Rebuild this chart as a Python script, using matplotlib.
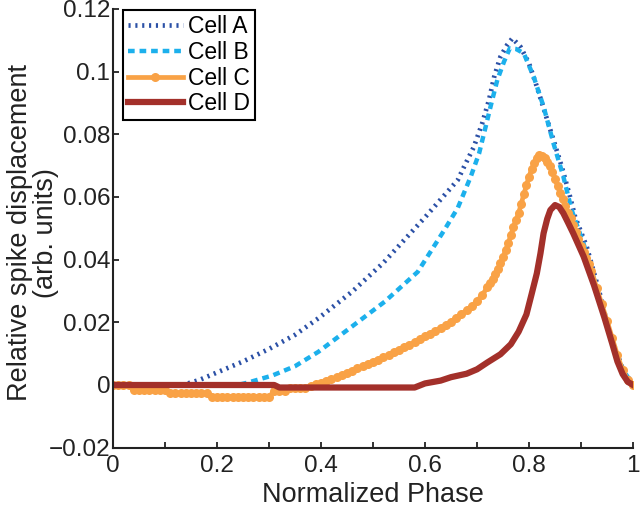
import matplotlib
matplotlib.use("Agg")
import matplotlib.pyplot as plt

plt.rcParams['font.family'] = ['Liberation Sans', 'DejaVu Sans']

# values
a_x = [0, 0.13, 0.14, 0.166, 0.20, 0.25, 0.30, 0.35, 0.395, 0.46, 0.52, 0.60,
       0.663, 0.675, 0.694, 0.71, 0.723, 0.733, 0.745, 0.758, 0.768, 0.7835,
       0.80, 0.815, 0.831, 0.847, 0.863, 0.879, 0.8885, 0.911, 0.936, 0.955,
       0.981, 1.0]
a_y = [0, 0, 0.0003, 0.0016, 0.0040, 0.0075, 0.0115, 0.0160, 0.0213, 0.0298,
       0.0390, 0.0535, 0.0654, 0.0696, 0.0760, 0.0835, 0.0909, 0.0983, 0.1047,
       0.1085, 0.1106, 0.1079, 0.1026, 0.0952, 0.0867, 0.0782, 0.0696, 0.0600,
       0.0537, 0.0441, 0.0292, 0.0165, 0.0048, 0]

b_x = [0, 0.24, 0.26, 0.281, 0.306, 0.35, 0.395, 0.459, 0.5226, 0.586, 0.637,
       0.663, 0.688, 0.704, 0.7166, 0.726, 0.739, 0.7518, 0.763, 0.775, 0.79,
       0.809, 0.828, 0.847, 0.866, 0.882, 0.905, 0.93, 0.955, 0.98, 1.0]
b_y = [0, 0, 0.0008, 0.0018, 0.0030, 0.0060, 0.0106, 0.0186, 0.0266, 0.0361,
       0.0494, 0.0565, 0.0665, 0.0739, 0.0824, 0.0888, 0.0973, 0.1031, 0.1074,
       0.1072, 0.1058, 0.0983, 0.0888, 0.0771, 0.0665, 0.0558, 0.0450, 0.0310,
       0.0165, 0.0050, 0]

# cell C is sampled finely (every 0.01, every 0.005 around the peak)
c_x = ([i / 100 for i in range(72)]
       + [round(0.72 + i * 0.005, 3) for i in range(40)]
       + [0.92, 0.93, 0.94, 0.95, 0.96, 0.97, 0.98, 0.99, 1.0])
c_y = [0, 0, 0, 0,
       -0.0016, -0.0016, -0.0016, -0.0016, -0.0016, -0.0016, -0.0016,
       -0.0027, -0.0027, -0.0027, -0.0027, -0.0027, -0.0027, -0.0027, -0.0027,
       -0.0037, -0.0037, -0.0037, -0.0037, -0.0037, -0.0037, -0.0037, -0.0037,
       -0.0037, -0.0037, -0.0037, -0.0037,
       -0.0020, -0.0020, -0.0020,
       -0.0010, -0.0010, -0.0010, -0.0010,
       -0.0003, 0.0002, 0.0007, 0.0012, 0.0018, 0.0024, 0.0031, 0.0038, 0.0045,
       0.0053, 0.0060, 0.0067, 0.0074, 0.0081, 0.0088, 0.0096, 0.0104, 0.0112,
       0.0120, 0.0128, 0.0137, 0.0146, 0.0155, 0.0164, 0.0173, 0.0182, 0.0192,
       0.0202, 0.0214, 0.0226, 0.0238, 0.0252, 0.0268, 0.0287,
       0.0312, 0.0325, 0.0339, 0.0354, 0.0370, 0.0388, 0.0408, 0.0430, 0.0453,
       0.0477, 0.0505, 0.0527, 0.0548, 0.0578, 0.0608, 0.0637, 0.0665, 0.0688,
       0.0708, 0.0724, 0.0733, 0.0732, 0.0725, 0.0712, 0.0698, 0.0680, 0.0657,
       0.0635, 0.0613, 0.0592, 0.0570, 0.0550, 0.0532, 0.0510, 0.0488, 0.0466,
       0.0444, 0.0424, 0.0404, 0.0385,
       0.0365, 0.0310, 0.0258, 0.0205, 0.0150, 0.0095, 0.0048, 0.0015, 0]

d_x = [0, 0.31, 0.32, 0.58, 0.60, 0.63, 0.65, 0.68, 0.70, 0.72, 0.745, 0.765,
       0.78, 0.795, 0.805, 0.815, 0.822, 0.828, 0.835, 0.841, 0.85, 0.858,
       0.866, 0.875, 0.885, 0.905, 0.925, 0.945, 0.96, 0.97, 0.98, 0.99, 1.0]
d_y = [0, 0, -0.0008, -0.0008, 0.0005, 0.0014, 0.0025, 0.0036, 0.0050, 0.0072,
       0.0098, 0.0130, 0.0170, 0.0225, 0.0290, 0.0356, 0.0420, 0.0484, 0.0530,
       0.0558, 0.0574, 0.0568, 0.0548, 0.0518, 0.0484, 0.0410, 0.0318, 0.0215,
       0.0132, 0.0075, 0.0035, 0.0010, 0]

labels = ["Cell A", "Cell B", "Cell C", "Cell D"]
y_ticks = [-0.02, 0, 0.02, 0.04, 0.06, 0.08, 0.1, 0.12]
y_ticklabels = ["\u22120.02", "0", "0.02", "0.04", "0.06", "0.08", "0.1", "0.12"]
x_ticks = [0, 0.2, 0.4, 0.6, 0.8, 1]
x_ticklabels = ["0", "0.2", "0.4", "0.6", "0.8", "1"]

fig = plt.figure(figsize=(6.4, 5.13), dpi=100)
ax = fig.add_axes([0.1766, 0.1273, 0.8125, 0.8555])

ax.plot(a_x, a_y, color="#2b50a6", lw=3.4, ls=(0, (0.45, 1.0)), label=labels[0])
ax.plot(b_x, b_y, color="#1cb0ec", lw=3.2, ls=(0, (1.5, 1.1)), label=labels[1])
ax.plot(c_x, c_y, color="#f9a246", lw=3.4, marker="o", ms=6.5, mew=0,
        label=labels[2])
ax.plot(d_x, d_y, color="#a3302a", lw=4.5, label=labels[3])

ax.set_xlim(0, 1)
ax.set_ylim(-0.02, 0.12)

ax.spines["top"].set_visible(False)
ax.spines["right"].set_visible(False)
for s in ["left", "bottom"]:
    ax.spines[s].set_linewidth(1.5)
    ax.spines[s].set_color("#222222")

ax.set_xticks(x_ticks)
ax.set_xticklabels(x_ticklabels)
ax.set_xticks([0.1, 0.3, 0.5, 0.7, 0.9], minor=True)
ax.set_yticks(y_ticks)
ax.set_yticklabels(y_ticklabels)
ax.tick_params(which="both", direction="in", length=4.3, width=1.3,
               colors="#222222", labelsize=17.5)
ax.tick_params(axis="y", pad=2)
ax.tick_params(axis="x", pad=5)

ax.set_xlabel("Normalized Phase", fontsize=19.5, labelpad=4, color="#222222")
ax.set_ylabel("Relative spike displacement\n(arb. units)", fontsize=19.5,
              linespacing=1.0, color="#222222")
ax.yaxis.set_label_coords(-0.103, 0.49)

leg = ax.legend(loc="upper left", bbox_to_anchor=(0.019, 0.997),
                borderaxespad=0, fontsize=16.5, handlelength=2.4,
                handletextpad=0.22, labelspacing=0.12, borderpad=0.22,
                fancybox=False, framealpha=1)
leg.get_frame().set_edgecolor("black")
leg.get_frame().set_linewidth(1.5)

plt.savefig("out.png", dpi=100)
plt.close()
